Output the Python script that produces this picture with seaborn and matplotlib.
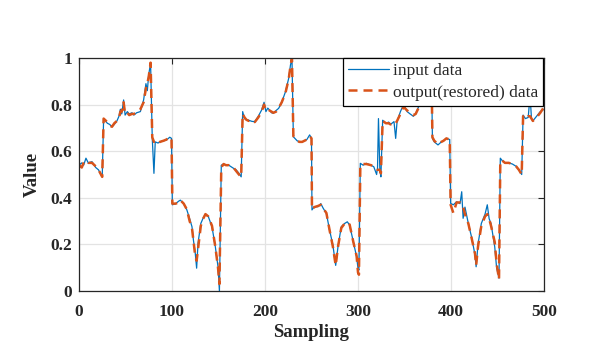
import numpy as np
import pandas as pd
import matplotlib
matplotlib.use("Agg")
import matplotlib.pyplot as plt
import seaborn as sns

# sample positions
sample_idx = [0, 3, 5, 7.5, 10, 14, 18, 21, 25, 26.5, 30.5, 33, 35.5, 38, 40.8, 43, 44.5, 46, 48, 49.6,
              52, 54, 57, 59, 62, 66, 69.5, 72, 73.5, 75, 77, 78.8, 80.6, 82, 85, 87, 91, 94, 97.6, 99.5,
              100.4, 104, 107, 109, 112.6, 116, 119, 121.5, 123, 125, 126.5, 128, 131, 133.5, 136, 139,
              143, 146.6, 149.5, 151, 153, 155.5, 158, 161, 166, 169, 172, 174.4, 176, 178, 180, 182.5,
              186, 189, 192.8, 196.4, 199, 201, 203, 204.8, 207, 209, 212, 214.7, 218, 222, 225.5, 227.4,
              229, 230.5, 234.5, 237, 240, 245, 248, 250, 250.5, 253, 257, 260, 262.6, 266, 269.5, 273,
              276, 278.5, 282, 285.7, 288.5, 291, 295, 298.5, 300, 301, 302.5, 305.5, 309, 314, 317, 320,
              321, 322, 323.5, 324.6, 326.5, 330, 333, 335, 338.7, 340.5, 342, 345.6, 349, 352.8, 356,
              359.5, 362, 365, 368.5, 371, 373.8, 377.4, 379, 380, 382, 386, 389.6, 392, 395, 398.6,
              399.6, 402.5, 406, 409.7, 411.5, 413, 415, 418.6, 422, 425.8, 427, 429, 432.6, 436.6, 439,
              441, 443, 447, 449, 451.6, 453, 455, 458, 462, 466, 470, 473, 476, 477.5, 480, 483, 485,
              486.5, 488, 492, 496, 500]

input_data = [0.54, 0.55, 0.54, 0.57, 0.55, 0.555, 0.53, 0.52, 0.49, 0.74, 0.72, 0.715, 0.705, 0.715, 0.73,
              0.75, 0.78, 0.76, 0.82, 0.755, 0.77, 0.76, 0.765, 0.755, 0.765, 0.77, 0.82, 0.89, 0.86, 0.93,
              0.977, 0.655, 0.505, 0.64, 0.635, 0.64, 0.645, 0.648, 0.66, 0.655, 0.37, 0.375, 0.385, 0.39,
              0.375, 0.348, 0.31, 0.276, 0.22, 0.163, 0.098, 0.205, 0.29, 0.313, 0.33, 0.32, 0.276, 0.19,
              0.104, 0.0, 0.54, 0.545, 0.54, 0.54, 0.527, 0.52, 0.505, 0.49, 0.77, 0.74, 0.735, 0.733,
              0.728, 0.727, 0.75, 0.777, 0.81, 0.77, 0.785, 0.777, 0.765, 0.763, 0.775, 0.784, 0.81, 0.855,
              0.913, 0.97, 1.0, 0.662, 0.645, 0.64, 0.64, 0.65, 0.67, 0.655, 0.348, 0.362, 0.362, 0.375,
              0.355, 0.333, 0.26, 0.197, 0.11, 0.19, 0.276, 0.29, 0.297, 0.283, 0.21, 0.147, 0.098, 0.09,
              0.548, 0.54, 0.548, 0.54, 0.533, 0.50, 0.53, 0.74, 0.52, 0.49, 0.733, 0.72, 0.725, 0.715,
              0.727, 0.655, 0.727, 0.77, 0.80, 0.77, 0.76, 0.75, 0.76, 0.79, 0.805, 0.795, 0.80, 0.93,
              0.95, 0.655, 0.64, 0.627, 0.64, 0.645, 0.655, 0.65, 0.376, 0.37, 0.383, 0.375, 0.426, 0.312,
              0.36, 0.29, 0.233, 0.155, 0.104, 0.20, 0.29, 0.33, 0.37, 0.31, 0.29, 0.19, 0.10, 0.055,
              0.57, 0.56, 0.55, 0.55, 0.545, 0.535, 0.52, 0.50, 0.755, 0.74, 0.745, 0.84, 0.74, 0.73,
              0.75, 0.77, 0.78]

restored_data = [0.54, 0.53, 0.55, 0.56, 0.55, 0.55, 0.535, 0.52, 0.49, 0.74, 0.725, 0.71, 0.705, 0.72, 0.73,
                 0.74, 0.77, 0.77, 0.81, 0.76, 0.765, 0.755, 0.76, 0.76, 0.765, 0.78, 0.81, 0.87, 0.89, 0.92,
                 0.98, 0.66, 0.64, 0.645, 0.635, 0.64, 0.645, 0.65, 0.66, 0.655, 0.375, 0.375, 0.38, 0.39,
                 0.375, 0.35, 0.30, 0.27, 0.22, 0.15, 0.13, 0.18, 0.28, 0.31, 0.33, 0.32, 0.28, 0.19,
                 0.10, 0.03, 0.53, 0.545, 0.54, 0.54, 0.53, 0.515, 0.50, 0.49, 0.76, 0.745, 0.735, 0.73,
                 0.735, 0.725, 0.745, 0.77, 0.80, 0.775, 0.78, 0.775, 0.77, 0.765, 0.77, 0.785, 0.81, 0.85,
                 0.91, 0.965, 1.0, 0.665, 0.645, 0.64, 0.64, 0.65, 0.665, 0.655, 0.35, 0.36, 0.365, 0.37,
                 0.355, 0.335, 0.26, 0.19, 0.11, 0.19, 0.27, 0.29, 0.295, 0.285, 0.21, 0.15, 0.08, 0.07,
                 0.54, 0.545, 0.545, 0.54, 0.535, 0.525, 0.52, 0.52, 0.52, 0.505, 0.73, 0.72, 0.72, 0.715,
                 0.725, 0.72, 0.73, 0.76, 0.79, 0.775, 0.765, 0.755, 0.76, 0.785, 0.80, 0.795, 0.80, 0.92,
                 0.95, 0.66, 0.645, 0.63, 0.64, 0.645, 0.655, 0.65, 0.37, 0.335, 0.38, 0.38, 0.375, 0.36,
                 0.33, 0.29, 0.23, 0.16, 0.11, 0.19, 0.28, 0.32, 0.33, 0.31, 0.28, 0.21, 0.12, 0.05,
                 0.56, 0.56, 0.55, 0.55, 0.545, 0.535, 0.52, 0.50, 0.75, 0.74, 0.75, 0.75, 0.74, 0.73,
                 0.745, 0.765, 0.79]

x_ticks = [0, 100, 200, 300, 400, 500]
y_ticks = [0, 0.2, 0.4, 0.6, 0.8, 1]
y_tick_labels = ['0', '0.2', '0.4', '0.6', '0.8', '1']

df = pd.DataFrame({'Sampling': sample_idx, 'input': input_data, 'restored': restored_data})

sns.set_style('white')
plt.rcParams['font.family'] = ['Liberation Serif', 'DejaVu Serif']

fig = plt.figure(figsize=(6.01, 3.61), dpi=100)
ax = fig.add_axes([0.1314, 0.1939, 0.7738, 0.6454])

sns.lineplot(data=df, x='Sampling', y='input', ax=ax, color='#0072BD', linewidth=0.9,
             estimator=None, sort=False, label='input data')
sns.lineplot(data=df, x='Sampling', y='restored', ax=ax, color='#D95319', linewidth=1.8,
             estimator=None, sort=False, label='output(restored) data', dashes=False)
ax.lines[1].set_dashes((3.6, 2.4))

ax.set_xlim(0, 500)
ax.set_ylim(0, 1)
ax.set_xticks(x_ticks)
ax.set_yticks(y_ticks)
ax.set_yticklabels(y_tick_labels)
ax.grid(True, color='#e3e3e3', linewidth=0.9)
ax.set_axisbelow(True)

for side in ax.spines.values():
    side.set_color('#262626')
    side.set_linewidth(0.9)
ax.tick_params(direction='in', length=4, width=0.8, color='#262626',
               top=True, right=True, labelsize=12.5)
ax.tick_params(axis='x', pad=9)
ax.tick_params(axis='y', pad=5)
for lab in ax.get_xticklabels() + ax.get_yticklabels():
    lab.set_fontweight('bold')

ax.set_xlabel('Sampling', fontsize=13.5, fontweight='bold', labelpad=3)
ax.set_ylabel('Value', fontsize=13.5, fontweight='bold', labelpad=7)

leg = ax.legend(loc='upper right', bbox_to_anchor=(0.9985, 1.001), borderaxespad=0,
                fontsize=12.5, frameon=True, fancybox=False, framealpha=1,
                edgecolor='black', handlelength=2.4, handletextpad=0.2,
                borderpad=0.3, labelspacing=0.3)
leg.get_frame().set_linewidth(0.9)

fig.savefig('out.png', dpi=100)
